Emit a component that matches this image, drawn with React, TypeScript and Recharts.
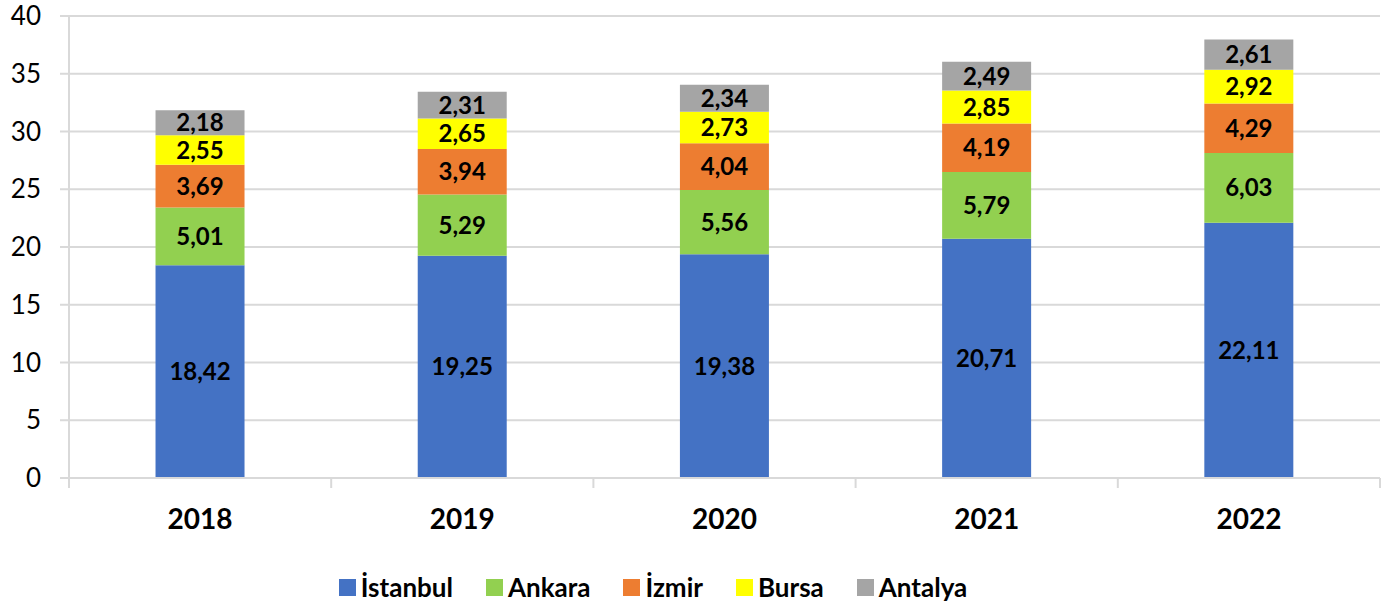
import React from 'react';
import { BarChart, Bar, XAxis, YAxis, CartesianGrid, Legend, LabelList } from 'recharts';

const years = ['2018', '2019', '2020', '2021', '2022'];
const istanbul = [18.42, 19.25, 19.38, 20.71, 22.11];
const ankara = [5.01, 5.29, 5.56, 5.79, 6.03];
const izmir = [3.69, 3.94, 4.04, 4.19, 4.29];
const bursa = [2.55, 2.65, 2.73, 2.85, 2.92];
const antalya = [2.18, 2.31, 2.34, 2.49, 2.61];
const yTicks = [0, 5, 10, 15, 20, 25, 30, 35, 40];

const seriesDefs = [
  { key: 'istanbul', name: 'İstanbul', color: '#4472C4', values: istanbul },
  { key: 'ankara', name: 'Ankara', color: '#92D050', values: ankara },
  { key: 'izmir', name: 'İzmir', color: '#ED7D31', values: izmir },
  { key: 'bursa', name: 'Bursa', color: '#FFFF00', values: bursa },
  { key: 'antalya', name: 'Antalya', color: '#A5A5A5', values: antalya },
];

const data = years.map((y, i) => {
  const row: any = { year: y };
  seriesDefs.forEach((s) => (row[s.key] = s.values[i]));
  return row;
});

const FONT = 'Lato, "Open Sans", sans-serif';
const GRID = '#D9D9D9';

const fmt = (v: any) => Number(v).toFixed(2).replace('.', ',');

const XTick = (props: any) => {
  const { x, y, payload, index, width, visibleTicksCount } = props;
  const band = width / visibleTicksCount;
  return (
    <g>
      <line x1={x - band / 2} x2={x - band / 2} y1={y} y2={y + 10} stroke={GRID} strokeWidth={2} />
      {index === visibleTicksCount - 1 && (
        <line x1={x + band / 2} x2={x + band / 2} y1={y} y2={y + 10} stroke={GRID} strokeWidth={2} />
      )}
      <text x={x} y={y + 51} textAnchor="middle" fontFamily={FONT} fontWeight={700} fontSize={28} fill="#000">
        {payload.value}
      </text>
    </g>
  );
};

const LegendContent = () => (
  <div
    style={{
      display: 'flex',
      justifyContent: 'center',
      alignItems: 'center',
      fontFamily: FONT,
      height: 34,
      paddingRight: 82,
    }}
  >
    {seriesDefs.map((s, i) => (
      <div key={s.key} style={{ display: 'flex', alignItems: 'center', marginLeft: i === 0 ? 0 : 33 }}>
        <div style={{ width: 17, height: 17, background: s.color, marginRight: 5 }} />
        <span style={{ fontWeight: 700, fontSize: 26, color: '#000' }}>{s.name}</span>
      </div>
    ))}
  </div>
);

export default function App() {
  return (
    <div style={{ position: 'absolute', left: 0, top: 0, width: 1394, height: 604, background: '#fff' }}>
      <BarChart
        width={1394}
        height={604}
        data={data}
        margin={{ top: 16, right: 14, left: 8, bottom: 30 }}
        barCategoryGap="33%"
      >
        <CartesianGrid vertical={false} stroke={GRID} strokeWidth={2} />
        <XAxis
          dataKey="year"
          axisLine={{ stroke: GRID, strokeWidth: 2 }}
          tickLine={false}
          tickSize={0}
          tickMargin={0}
          height={62}
          tick={<XTick />}
          interval={0}
        />
        <YAxis
          domain={[0, 40]}
          ticks={yTicks}
          width={61}
          axisLine={{ stroke: GRID, strokeWidth: 2 }}
          tickLine={{ stroke: GRID, strokeWidth: 2 }}
          tickSize={9}
          tickMargin={19}
          tick={{ fontFamily: FONT, fontSize: 26, fill: '#000' }}
          interval={0}
        />
        <Legend content={<LegendContent />} verticalAlign="bottom" wrapperStyle={{ bottom: 0 }} />
        {seriesDefs.map((s) => (
          <Bar key={s.key} dataKey={s.key} name={s.name} stackId="a" fill={s.color} isAnimationActive={false}>
            <LabelList
              dataKey={s.key}
              position="center"
              formatter={fmt}
              fill="#000"
              fontFamily={FONT}
              fontWeight={700}
              fontSize={24}
            />
          </Bar>
        ))}
      </BarChart>
    </div>
  );
}
